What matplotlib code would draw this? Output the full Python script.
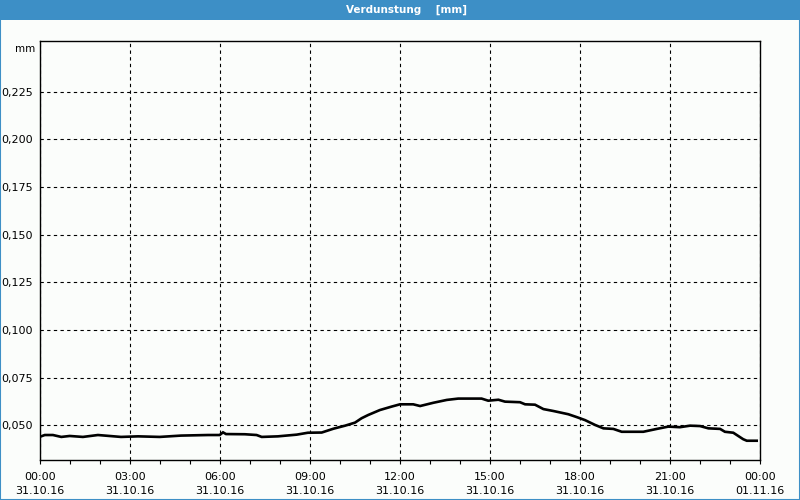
import matplotlib
matplotlib.use("Agg")
import matplotlib.pyplot as plt
from matplotlib.patches import Rectangle

# Verdunstung over one day, hours since 31.10.16 00:00
hours = [0.0, 0.16, 0.43, 0.71, 0.99, 1.43, 1.93, 2.7, 3.27, 3.99, 4.7, 5.6,
         5.99, 6.1, 6.2, 6.83, 7.22, 7.39, 7.93, 8.56, 8.93, 9.39, 9.78, 10.17,
         10.5, 10.72, 10.94, 11.33, 11.72, 12.0, 12.44, 12.67, 13.11, 13.56,
         13.94, 14.72, 14.94, 15.28, 15.5, 16.0, 16.17, 16.5, 16.78, 17.11,
         17.61, 17.89, 18.17, 18.5, 18.78, 19.11, 19.39, 20.11, 20.56, 20.94,
         21.33, 21.67, 22.0, 22.28, 22.67, 22.83, 23.11, 23.44, 23.56, 23.89]
values = [0.0440, 0.0449, 0.0449, 0.0439, 0.0444, 0.0439, 0.0449, 0.0439,
          0.0442, 0.0439, 0.0446, 0.0449, 0.0449, 0.0463, 0.0454, 0.0453,
          0.0449, 0.0439, 0.0442, 0.0451, 0.0461, 0.0462, 0.0482, 0.0498,
          0.0514, 0.0537, 0.0554, 0.0580, 0.0598, 0.0610, 0.0610, 0.0601,
          0.0618, 0.0633, 0.0640, 0.0640, 0.0629, 0.0634, 0.0624, 0.0621,
          0.0610, 0.0608, 0.0585, 0.0575, 0.0558, 0.0543, 0.0527, 0.0502,
          0.0484, 0.0481, 0.0466, 0.0466, 0.0481, 0.0493, 0.0490, 0.0498,
          0.0496, 0.0484, 0.0481, 0.0466, 0.0461, 0.0427, 0.0419, 0.0419]

x_ticks = [0, 3, 6, 9, 12, 15, 18, 21, 24]
x_labels = ["00:00\n31.10.16", "03:00\n31.10.16", "06:00\n31.10.16",
            "09:00\n31.10.16", "12:00\n31.10.16", "15:00\n31.10.16",
            "18:00\n31.10.16", "21:00\n31.10.16", "00:00\n01.11.16"]
y_ticks = [0.050, 0.075, 0.100, 0.125, 0.150, 0.175, 0.200, 0.225]
y_labels = ["0,050", "0,075", "0,100", "0,125", "0,150", "0,175", "0,200", "0,225"]

title = "Verdunstung    [mm]"
unit = "mm"

bar_blue = "#3d8fc6"
bg = "#fbfdfb"

fig = plt.figure(figsize=(8, 5), dpi=100, facecolor=bg)

# window frame and title bar
fig.patches.append(Rectangle((0, 0.96), 1, 0.04, transform=fig.transFigure,
                             facecolor=bar_blue, edgecolor="none", zorder=0))
fig.patches.append(Rectangle((0.0006, 0.001), 0.9988, 0.998, transform=fig.transFigure,
                             facecolor="none", edgecolor=bar_blue, linewidth=1.5, zorder=0))
fig.text(0.508, 0.98, title, color="white", fontsize=7.5, fontweight="bold",
         ha="center", va="center")

ax = fig.add_axes([0.05, 0.08, 0.9, 0.838])
ax.set_facecolor(bg)

ax.plot(hours, values, color="black", linewidth=1.9, solid_joinstyle="miter")

ax.set_xlim(0, 24)
ax.set_ylim(0.0318, 0.2515)

ax.set_xticks(x_ticks)
ax.set_xticklabels(x_labels, fontsize=8, linespacing=1.45)
ax.set_xticks(range(25), minor=True)
ax.tick_params(axis="x", which="both", direction="out", length=3, width=0.8, pad=6)

ax.set_yticks(y_ticks)
ax.set_yticklabels(y_labels, fontsize=8)
ax.tick_params(axis="y", length=0, pad=5)

ax.grid(True, which="major", color="black", linestyle=(0, (3, 3)), linewidth=0.8)

for s in ax.spines.values():
    s.set_linewidth(1.0)
    s.set_color("black")

ax.text(-0.007, 0.98, unit, transform=ax.transAxes, fontsize=7.5,
        ha="right", va="center")

fig.savefig("out.png", dpi=100, facecolor=bg)
